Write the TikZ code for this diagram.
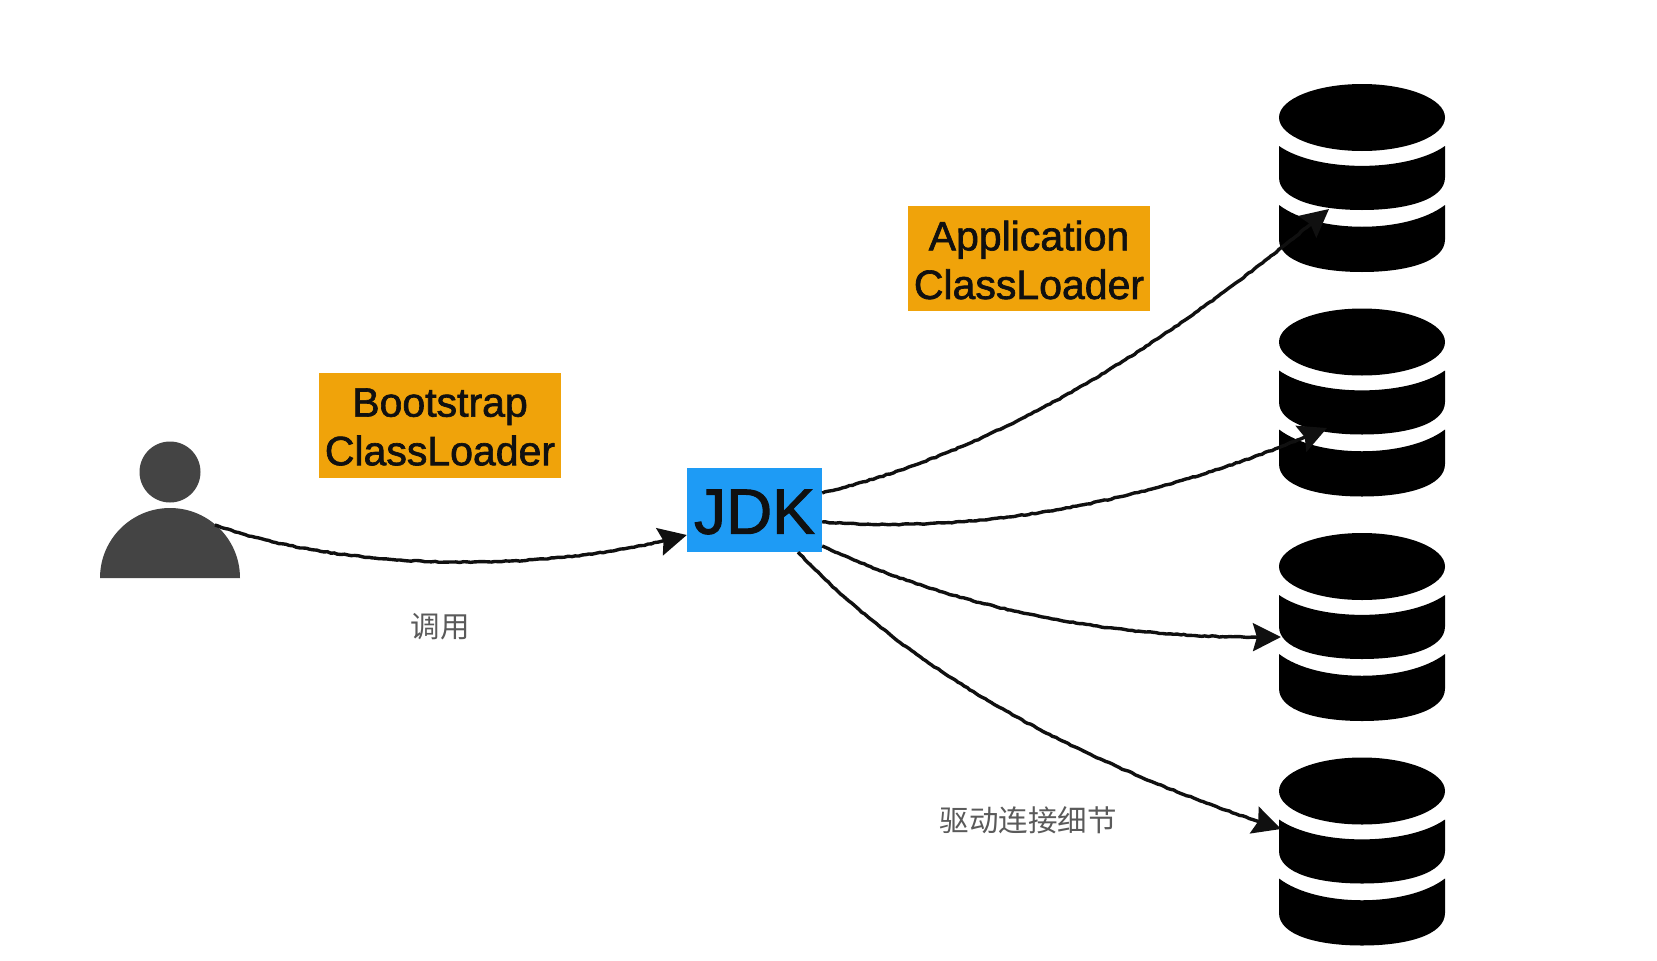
\documentclass[tikz,border=0pt]{standalone}
\usepackage{fontspec}
\setmainfont{Liberation Sans}
\newfontface\heavysans{Liberation Sans}[FakeBold=1.6]
\newfontfamily\cjk{Noto Sans CJK SC}
\usetikzlibrary{arrows.meta,decorations.pathmorphing}
\definecolor{orangebox}{HTML}{F0A30A}
\definecolor{bluebox}{HTML}{1E9BF5}
\definecolor{persongrey}{HTML}{444444}
\definecolor{labelgrey}{HTML}{5A5A5A}
\definecolor{inkdark}{HTML}{101010}
\newcommand{\lowertext}[2]{\raisebox{-#1}[\height][\depth]{#2}}
\tikzset{
  loaderbox/.style={fill=orangebox,text=inkdark,inner sep=0pt,minimum width=242pt,minimum height=105pt,font=\heavysans\fontsize{41}{48.6}\selectfont},
  jdkbox/.style={fill=bluebox,text=inkdark,inner sep=0pt,minimum width=135pt,minimum height=84pt,font=\heavysans\fontsize{64}{70}\selectfont},
  caption/.style={text=labelgrey,inner sep=0pt,font=\cjk\fontsize{29.5}{33}\selectfont},
  conn/.style={draw=inkdark,line width=3.4pt,-{Stealth[length=28pt,width=28pt,inset=4pt]},decorate,decoration={random steps,segment length=3.5pt,amplitude=0.5pt,post length=30pt}},
  pics/dbstack/.style={code={
    \fill[black] (0,0) ellipse [x radius=83,y radius=33.5];
    \fill[black] (-83,28.5) .. controls (-45,55) and (45,55) .. (83,28.5) -- (83,60)
       .. controls (83,82) and (45,92.5) .. (0,92.5) .. controls (-45,92.5) and (-83,82) .. (-83,60) -- cycle;
    \fill[black] (-83,87.5) .. controls (-45,116.5) and (45,116.5) .. (83,87.5) -- (83,122)
       .. controls (83,144) and (45,154.5) .. (0,154.5) .. controls (-45,154.5) and (-83,144) .. (-83,122) -- cycle;
  }}
}
\pgfmathsetseed{7}
\begin{document}
\begin{tikzpicture}[x=1pt,y=-1pt]
\useasboundingbox (0,0) rectangle (1657,961);
\fill[white] (0,0) rectangle (1657,961);
% person
\fill[persongrey] (170,472) circle [radius=30.5];
\fill[persongrey] (100,578) arc [start angle=180,end angle=360,radius=70] -- cycle;
\coordinate (person) at (215,525);
% boxes and captions
\node[loaderbox] (boot) at (440,425.5) {\lowertext{1.5pt}{\parbox{242pt}{\centering Bootstrap\\ClassLoader}}};
\node[loaderbox] (app) at (1029,258.5) {\lowertext{1.5pt}{\parbox{242pt}{\centering Application\\ClassLoader}}};
\node[jdkbox] (jdk) at (754.5,510) {\lowertext{2pt}{JDK}};
\node[caption] (call) at (440,627) {调用};
\node[caption] (driver) at (1028,820.5) {驱动连接细节};
% databases
\pic at (1362,117.5) {dbstack};
\pic at (1362,342) {dbstack};
\pic at (1362,566.5) {dbstack};
\pic at (1362,791) {dbstack};
\coordinate (db1) at (1329,209);
\coordinate (db2) at (1327,428);
\coordinate (db3) at (1281,637);
\coordinate (db4) at (1281,829);
% connectors
\draw[conn] (person) .. controls (340,570) and (540,575) .. (jdk.west |- 0,535);
\draw[conn] (jdk.east |- 0,493) .. controls (1000,450) and (1160,350) .. (db1);
\draw[conn] (jdk.east |- 0,522) .. controls (1000,535) and (1170,495) .. (db2);
\draw[conn] (jdk.east |- 0,546) .. controls (950,605) and (1100,640) .. (db3);
\draw[conn] ([xshift=43.5pt]jdk.south) .. controls (910,670) and (1070,760) .. (db4);
\end{tikzpicture}
\end{document}
